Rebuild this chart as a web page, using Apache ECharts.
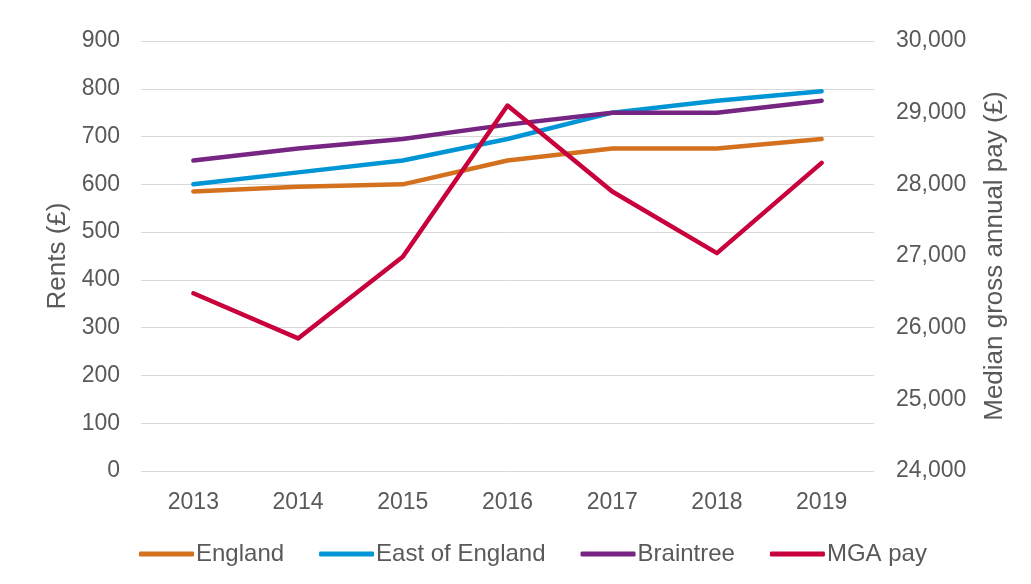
<!DOCTYPE html>
<html>
<head>
<meta charset="utf-8">
<script src="https://cdn.jsdelivr.net/npm/echarts@6/dist/echarts.min.js"></script>
<style>
  html, body { margin: 0; padding: 0; background: #fff; }
  #chart { width: 1031px; height: 584px; }
</style>
</head>
<body>
<div id="chart"></div>
<script>
// years on the x axis
const years = ['2013', '2014', '2015', '2016', '2017', '2018', '2019'];
// rents (left axis)
const england = [585, 595, 600, 650, 675, 675, 695];
const eastOfEngland = [600, 625, 650, 695, 750, 775, 795];
const braintree = [650, 675, 695, 725, 750, 750, 775];
// median gross annual pay (right axis)
const mgaPay = [26480, 25850, 26990, 29100, 27900, 27040, 28300];

const textColor = '#595959';
const font = 'Liberation Sans, Arial, sans-serif';

let myChart = echarts.init(document.getElementById('chart'));

function lineSeries(name, data, color, axis) {
    return {
        name: name,
        type: 'line',
        yAxisIndex: axis,
        data: data,
        symbol: 'none',
        lineStyle: { width: 4.5, color: color, cap: 'round', join: 'round' },
        itemStyle: { color: color }
    };
}

let option = {
    animation: false,
    textStyle: { fontFamily: font },
    grid: { left: 141, right: 157, top: 41, bottom: 113 },
    legend: {
        top: 537,
        left: 134,
        icon: 'roundRect',
        itemWidth: 55,
        itemHeight: 5,
        itemGap: 35,
        textStyle: { color: textColor, fontSize: 24, fontFamily: font, padding: [0, 0, 0, -3] }
    },
    xAxis: {
        type: 'category',
        data: years,
        boundaryGap: true,
        axisLine: { show: false },
        axisTick: { show: false },
        axisLabel: { color: textColor, fontSize: 23, margin: 20 }
    },
    yAxis: [
        {
            type: 'value',
            min: 0, max: 900, interval: 100,
            name: 'Rents (£)',
            nameLocation: 'middle',
            nameGap: 69,
            nameTextStyle: { color: textColor, fontSize: 26 },
            axisLabel: { color: textColor, fontSize: 23, margin: 21 },
            splitLine: { lineStyle: { color: '#d9d9d9', width: 1 } },
            axisLine: { show: false },
            axisTick: { show: false }
        },
        {
            type: 'value',
            min: 24000, max: 30000, interval: 1000,
            name: 'Median gross annual pay (£)',
            nameLocation: 'middle',
            nameGap: 108,
            nameRotate: 90,
            nameTextStyle: { color: textColor, fontSize: 26 },
            axisLabel: {
                color: textColor, fontSize: 23, margin: 22,
                formatter: v => v.toLocaleString('en-GB')
            },
            splitLine: { show: false },
            axisLine: { show: false },
            axisTick: { show: false }
        }
    ],
    series: [
        lineSeries('England', england, '#D4711F', 0),
        lineSeries('East of England', eastOfEngland, '#0096D6', 0),
        lineSeries('Braintree', braintree, '#772583', 0),
        lineSeries('MGA pay', mgaPay, '#C8003C', 1)
    ]
};

myChart.setOption(option);
</script>
</body>
</html>
